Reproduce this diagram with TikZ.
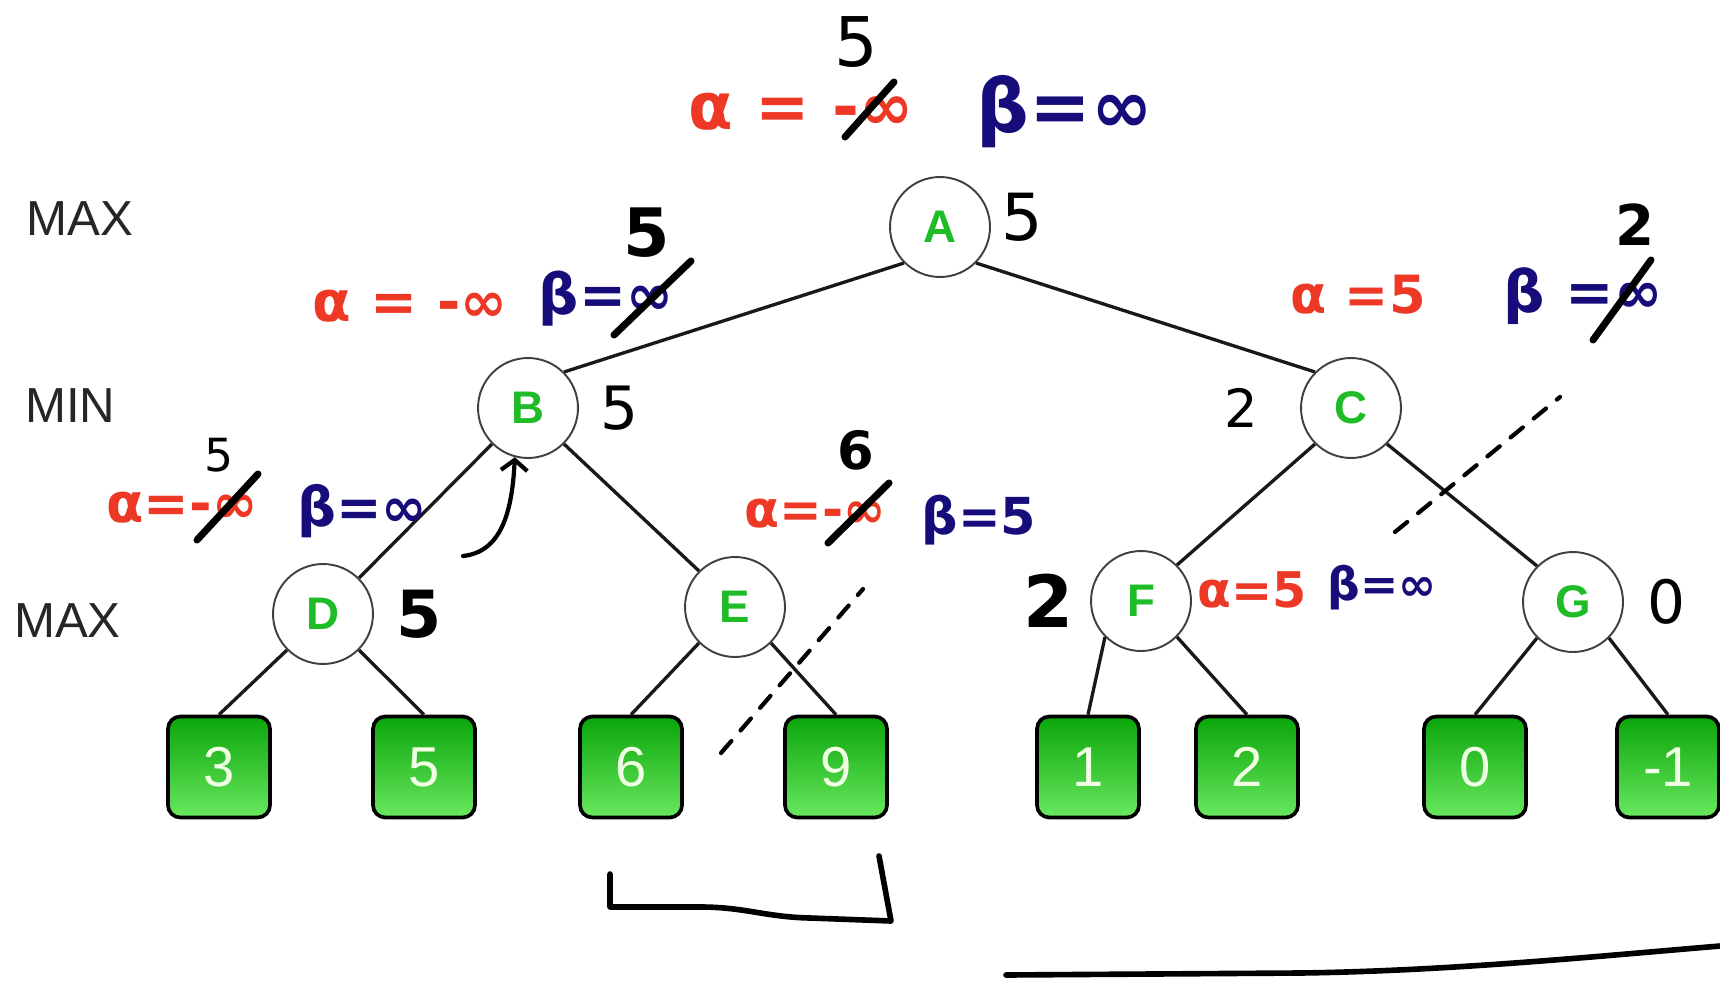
\documentclass[tikz,border=0pt]{standalone}
\usepackage{fontspec}
\setsansfont{Liberation Sans}
\newfontfamily\penfont{DejaVu Sans}
\usetikzlibrary{positioning,arrows.meta}
\definecolor{nodegreen}{RGB}{30,188,38}
\definecolor{leafdark}{RGB}{10,165,10}
\definecolor{leaflight}{RGB}{105,232,95}
\definecolor{leaftext}{RGB}{240,255,228}
\definecolor{penred}{RGB}{236,56,36}
\definecolor{pennavy}{RGB}{22,12,122}

\tikzset{
  state/.style={circle,draw=black!75,line width=1.1pt,fill=white,minimum size=2cm,inner sep=0pt,
    text=nodegreen,font=\sffamily\bfseries\fontsize{26}{26}\selectfont},
  leaf/.style={rectangle,rounded corners=7pt,draw=black,line width=2.1pt,top color=leafdark,
    bottom color=leaflight,minimum width=2.04cm,minimum height=2.02cm,inner sep=0pt,
    text=leaftext,font=\sffamily\fontsize{32}{32}\selectfont},
  ply/.style={anchor=west,text=black!85,font=\sffamily\fontsize{28}{28}\selectfont},
  branch/.style={line width=1.9pt,black!90},
  redpen/.style={text=penred,inner sep=0pt,font=\penfont\bfseries\fontsize{#1}{#1}\selectfont},
  bluepen/.style={text=pennavy,inner sep=0pt,font=\penfont\bfseries\fontsize{#1}{#1}\selectfont},
  val/.style={inner sep=0pt,font=\penfont\fontsize{#1}{#1}\selectfont},
  boldval/.style={inner sep=0pt,font=\penfont\bfseries\fontsize{#1}{#1}\selectfont},
  strike/.style={line width=4pt,line cap=round},
  pen/.style={line width=3.2pt,line cap=round,line join=round},
  cut/.style={line width=2.4pt,line cap=round,dash pattern=on 9pt off 8pt},
}

\begin{document}
\begin{tikzpicture}[x=0.02cm,y=-0.02cm]
\useasboundingbox (0,0) rectangle (1720,983);

% plies
\node[ply] (max1) at (20,219) {MAX};
\node[ply] (min1) at (19,406) {MIN};
\node[ply] (max2) at (8,621) {MAX};

% game tree
\node[state] (A) at (940,227) {A};
\node[state] (B) at (528,408) {B};
\node[state] (C) at (1351,408) {C};
\node[state] (D) at (323,614) {D};
\node[state] (E) at (735,607) {E};
\node[state] (F) at (1141,601) {F};
\node[state] (G) at (1573,602) {G};

\foreach \name/\x/\score in {l3/219/3,l5/424/5,l6/631/6,l9/836/9,l1/1088/1,l2/1247/2,l0/1475/0,lm/1668/-1}
  \node[leaf] (\name) at (\x,767) {\score};

\draw[branch] (A.south west) -- (B.north east);
\draw[branch] (A.south east) -- (C.north west);
\draw[branch] (B.south west) -- (D.north east);
\draw[branch] (B.south east) -- (E.north west);
\draw[branch] (C.south west) -- (F.north east);
\draw[branch] (C.south east) -- (G.north west);
\foreach \p/\l/\r in {D/l3/l5,E/l6/l9,F/l1/l2,G/l0/lm}{
  \draw[branch] (\p.south west) -- (\l.north);
  \draw[branch] (\p.south east) -- (\r.north);
}

% A
\node[val=39] (newA) at (856,42) {5};
\node[redpen=37] (alA) at (801,112) {α = -∞};
\node[bluepen=42] (beA) at (1065,112) {β=∞};
\draw[strike] (845,137) -- (894,82);
\node[val=37,right=0.2cm of A,yshift=0.2cm] (vA) {5};

% B
\node[redpen=32] (alB) at (410,306) {α = -∞};
\node[bluepen=32] (beB) at (606,299) {β=∞};
\draw[strike] (614,335) -- (691,261);
\node[boldval=38] (newB) at (647,233) {5};
\node[val=34,right=0.42cm of B] (vB) {5};

% C
\node[redpen=30] (alC) at (1358,295) {α =5};
\node[bluepen=33] (beC) at (1583,296) {β =∞};
\draw[strike] (1593,340) -- (1651,260);
\node[boldval=32] (newC) at (1635,225) {2};
\node[val=30,left=0.84cm of C] (vC) {2};

% D
\node[val=26] (newD) at (219,455) {5};
\node[redpen=31] (alD) at (182,508) {α=-∞};
\node[bluepen=31] (beD) at (362,511) {β=∞};
\draw[strike] (197,540) -- (258,474);
\node[boldval=37,right=0.44cm of D] (vD) {5};
\coordinate (backup) at (463,556);
\draw[pen,line width=2.4pt,-{Straight Barb[length=6pt,width=15pt]}] (backup) .. controls (500,552) and (512,515) .. (B.255);

% E
\node[boldval=30] (newE) at (856,450) {6};
\node[redpen=29] (alE) at (815,514) {α=-∞};
\node[bluepen=29] (beE) at (979,520) {β=5};
\draw[strike] (828,543) -- (889,483);
\draw[cut] (721,753) -- (863,589);

% F and G
\node[boldval=41,left=0.32cm of F] (vF) {2};
\node[redpen=28] (alF) at (1252,590) {α=5};
\node[bluepen=26] (beF) at (1382,588) {β=∞};
\node[val=34,right=0.46cm of G] (vG) {0};
\draw[cut] (1395,532) -- (1560,397);

% pruned parts
\draw[pen] (610,874) -- (610,907) -- (700,907) .. controls (745,907) and (765,917) .. (810,918) -- (891,921) -- (879,856);
\draw[pen] (1006,975) -- (1300,973) .. controls (1450,971) and (1600,956) .. (1720,946);
\end{tikzpicture}
\end{document}
